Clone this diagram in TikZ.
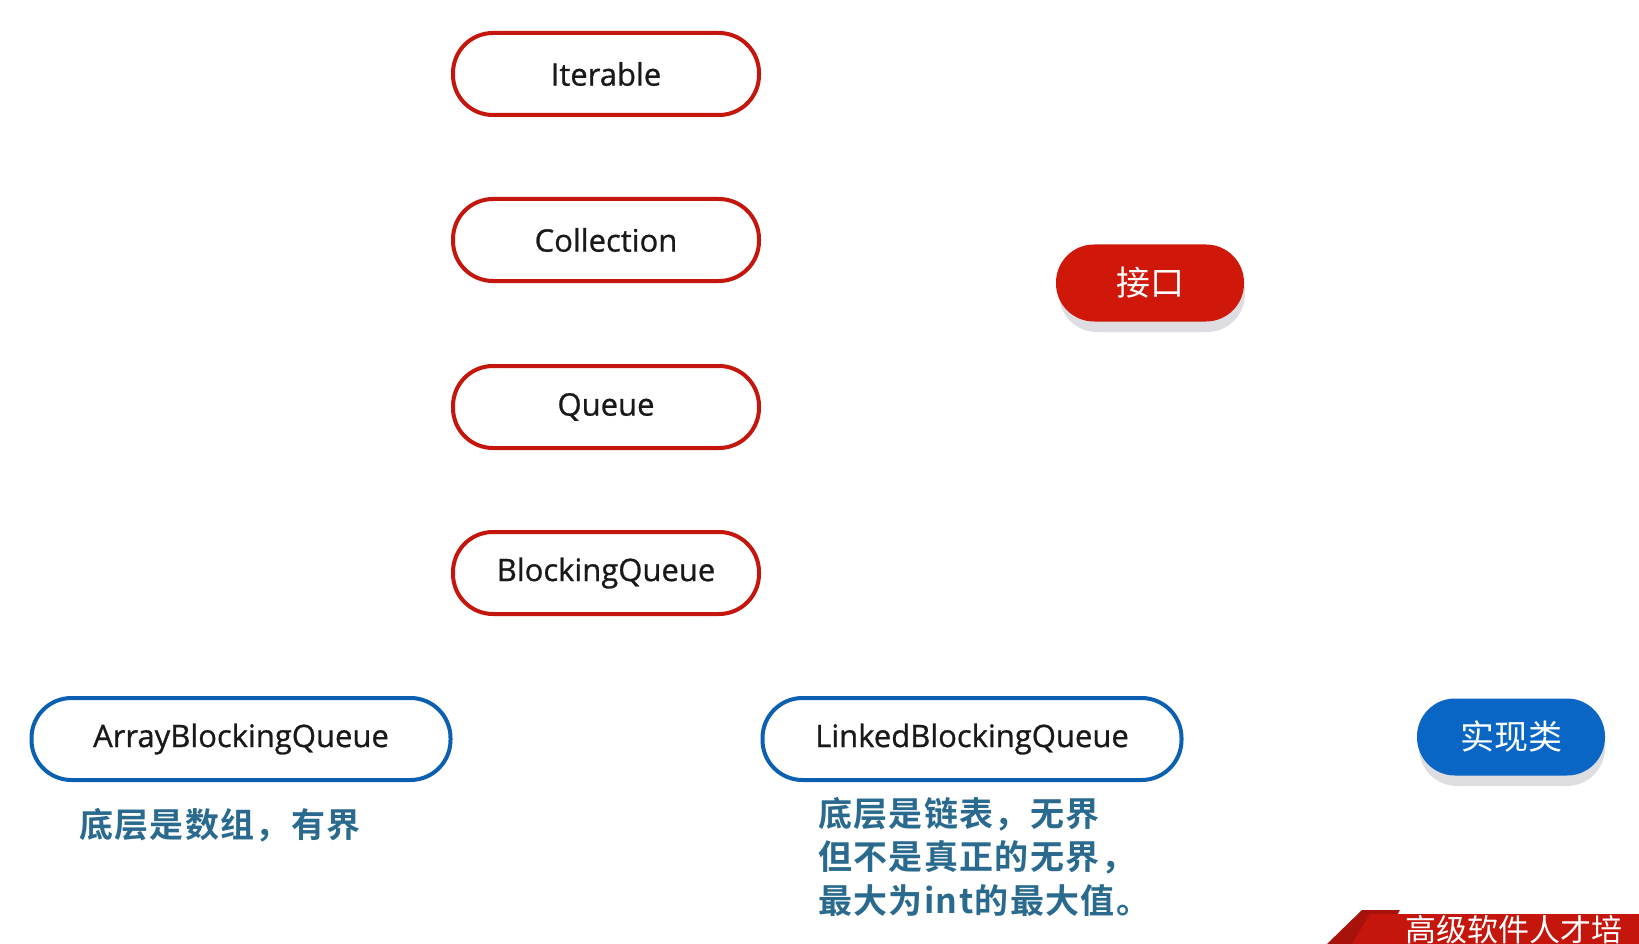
\documentclass[tikz,border=0pt]{standalone}
\usepackage{fontspec}
\setmainfont{Open Sans}
\newfontfamily\cjk{Noto Sans CJK SC}
\newfontfamily\cjkb{Noto Sans CJK SC Bold}
\newfontfamily\nodefont[FakeBold=0.8]{Open Sans}
\definecolor{ifred}{RGB}{196,22,12}
\definecolor{btnred}{RGB}{208,24,10}
\definecolor{clsblue}{RGB}{12,96,178}
\definecolor{btnblue}{RGB}{10,102,196}
\definecolor{notecol}{RGB}{42,106,142}
\definecolor{shadowgray}{RGB}{222,222,226}
\begin{document}
\begin{tikzpicture}[x=1pt,y=-1pt,
  iface/.style={draw=ifred,line width=4pt,rounded corners=40pt,minimum width=306pt,minimum height=82pt,font=\nodefont\fontsize{31}{34}\selectfont,text=black!90},
  impl/.style={draw=clsblue,line width=4pt,rounded corners=40pt,minimum width=419pt,minimum height=82pt,font=\nodefont\fontsize{31}{34}\selectfont,text=black!90},
  btn/.style={rounded corners=38pt,minimum width=188pt,minimum height=77pt,text=white,font=\cjk\fontsize{34}{36}\selectfont},
  note/.style={text=notecol,font=\cjkb\fontsize{34}{43.5}\selectfont\addfontfeatures{LetterSpace=4},align=left,anchor=north west,inner sep=0pt}
]
\useasboundingbox (0,0) rectangle (1639,944);
\fill[white] (0,0) rectangle (1639,944);

\node[iface] (iter) at (606,74) {Iterable};
\node[iface] (coll) at (606,240) {Collection};
\node[iface] (queue) at (606,407) {Queue};
\node[iface] (bq) at (606,573) {BlockingQueue};

\node[impl] (abq) at (241,739) {ArrayBlockingQueue};
\node[impl] (lbq) at (972,739) {LinkedBlockingQueue};

\fill[shadowgray,rounded corners=38pt] (1059,254) rectangle (1245,332);
\node[btn,fill=btnred] (jk) at (1150,283) {接口};
\fill[shadowgray,rounded corners=38pt] (1419,708) rectangle (1605,786);
\node[btn,fill=btnblue] (sx) at (1511,737) {实现类};

\node[note] (n1) at (79,808) {底层是数组，有界};
\node[note] (n2) at (818,797) {底层是链表，无界\\但不是真正的无界，\\最大为int的最大值。};

\begin{scope}
\clip (0,0) rectangle (1639,944);
\fill[ifred!85!black] (1327,944) -- (1362,910) -- (1400,910) -- (1380,944) -- cycle;
\fill[ifred] (1352,944) -- (1370,914) -- (1639,914) -- (1639,944) -- cycle;
\node[text=white,font=\cjk\fontsize{31}{32}\selectfont,anchor=west,inner sep=0pt] (wm) at (1405,930) {高级软件人才培};
\end{scope}
\end{tikzpicture}
\end{document}
